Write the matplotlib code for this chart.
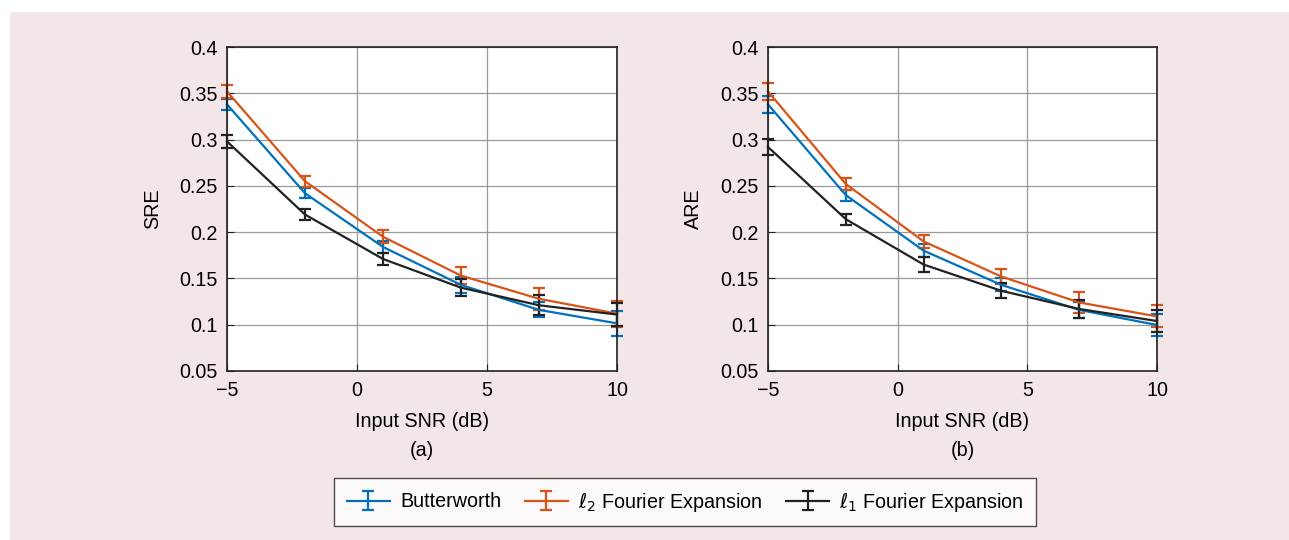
import matplotlib.pyplot as plt
from matplotlib.patches import Rectangle

plt.rcParams['font.family'] = ['Liberation Sans', 'DejaVu Sans']
plt.rcParams['mathtext.fontset'] = 'dejavusans'

snr = [-5, -2, 1, 4, 7, 10]

# panel (a): SRE
sre_butter = [0.338, 0.242, 0.184, 0.143, 0.116, 0.1015]
sre_butter_err = [0.006, 0.0055, 0.006, 0.009, 0.008, 0.0135]
sre_l2 = [0.352, 0.255, 0.195, 0.153, 0.128, 0.112]
sre_l2_err = [0.007, 0.006, 0.007, 0.009, 0.012, 0.014]
sre_l1 = [0.298, 0.219, 0.171, 0.140, 0.121, 0.111]
sre_l1_err = [0.007, 0.006, 0.007, 0.009, 0.011, 0.0125]

# panel (b): ARE
are_butter = [0.338, 0.240, 0.180, 0.143, 0.116, 0.0997]
are_butter_err = [0.009, 0.006, 0.007, 0.007, 0.009, 0.012]
are_l2 = [0.352, 0.252, 0.190, 0.152, 0.124, 0.109]
are_l2_err = [0.009, 0.006, 0.007, 0.008, 0.011, 0.012]
are_l1 = [0.292, 0.214, 0.165, 0.1366, 0.117, 0.104]
are_l1_err = [0.009, 0.006, 0.008, 0.008, 0.010, 0.012]

labels = ['Butterworth', r'$\ell_2$ Fourier Expansion', r'$\ell_1$ Fourier Expansion']
colors = ['#0072BD', '#D95319', '#222222']

fig = plt.figure(figsize=(12.89, 5.4), dpi=100)
fig.patches.append(Rectangle((10 / 1289, 0), 1, 1 - 12 / 540, transform=fig.transFigure,
                             facecolor='#f2e6e9', edgecolor='none', zorder=-10))

ax1 = fig.add_axes([227 / 1289, 169 / 540, 390 / 1289, 324 / 540])
ax2 = fig.add_axes([768 / 1289, 169 / 540, 389 / 1289, 324 / 540])

panels = [
    (ax1, 'SRE', '(a)', [(sre_butter, sre_butter_err), (sre_l2, sre_l2_err), (sre_l1, sre_l1_err)]),
    (ax2, 'ARE', '(b)', [(are_butter, are_butter_err), (are_l2, are_l2_err), (are_l1, are_l1_err)]),
]

fs = 14.2
handles = []
for ax, ylab, tag, series in panels:
    for (vals, errs), c, lab in zip(series, colors, labels):
        h = ax.errorbar(snr, vals, yerr=errs, color=c, lw=1.6, elinewidth=1.6,
                        capsize=4, capthick=1.6, label=lab, clip_on=False)
        if ax is ax1:
            handles.append(h)
    ax.set_xlim(-5, 10)
    ax.set_ylim(0.05, 0.4)
    ax.set_xticks([-5, 0, 5, 10])
    ax.set_yticks([0.05, 0.1, 0.15, 0.2, 0.25, 0.3, 0.35, 0.4])
    ax.set_yticklabels(['0.05', '0.1', '0.15', '0.2', '0.25', '0.3', '0.35', '0.4'])
    ax.grid(True, color='#9a9a9a', lw=0.9)
    ax.set_axisbelow(True)
    ax.tick_params(direction='in', length=5, labelsize=fs, color='#222222', pad=7)
    for s in ax.spines.values():
        s.set_color('#222222')
        s.set_linewidth(1.2)
    ax.set_ylabel(ylab, fontsize=fs, labelpad=12)
    ax.set_xlabel('Input SNR (dB)' + '\n' + tag, fontsize=fs, linespacing=1.65, labelpad=9)
    ax.set_facecolor('white')

fig.legend(handles=handles, loc='center', bbox_to_anchor=(685 / 1289, 1 - 502 / 540),
           ncol=3, fontsize=fs, frameon=True, fancybox=False, edgecolor='#222222',
           handlelength=2.2, handletextpad=0.5, columnspacing=1.2,
           borderpad=0.65).get_frame().set_linewidth(1.0)

fig.savefig('out.png', dpi=100)
